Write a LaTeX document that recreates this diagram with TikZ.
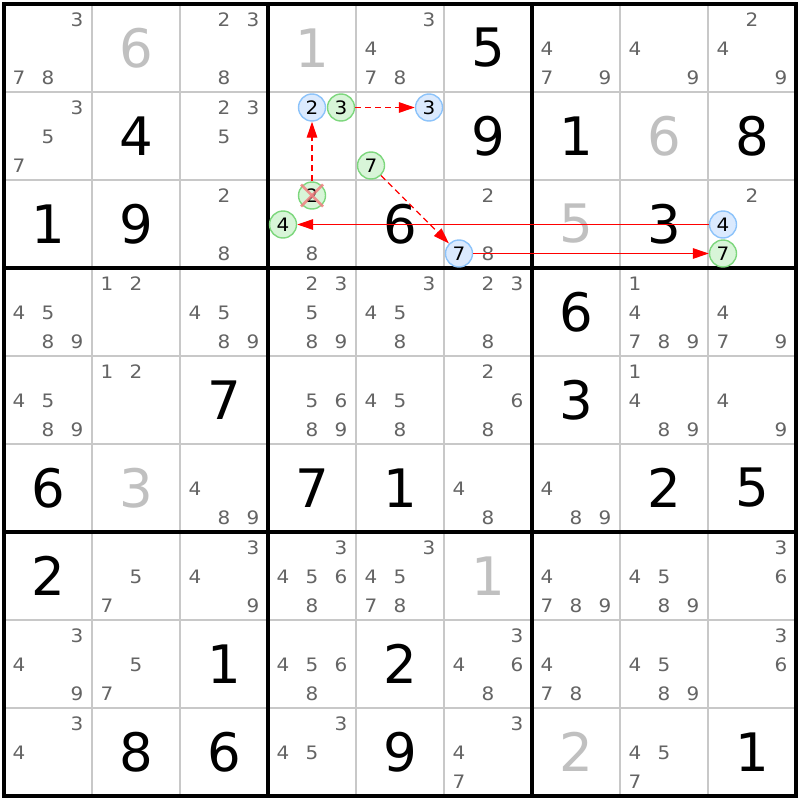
\documentclass[tikz,border=0pt]{standalone}
\usepackage{fontspec}
\setmainfont{DejaVu Sans}
\newfontfamily\candfont[FakeStretch=1.08]{DejaVu Sans}
\usetikzlibrary{arrows.meta}
\definecolor{gridc}{RGB}{200,200,200}
\definecolor{candc}{RGB}{100,100,100}
\definecolor{givg}{RGB}{192,192,192}
\definecolor{bfill}{RGB}{219,234,254}
\definecolor{bline}{RGB}{140,195,250}
\definecolor{gfill}{RGB}{216,245,216}
\definecolor{gline}{RGB}{125,215,125}
\definecolor{xcol}{RGB}{240,130,130}
\newcommand\cands[3]{%
  \foreach \n in {#3}{%
    \pgfmathtruncatemacro\py{(\n-1)/3}%
    \pgfmathtruncatemacro\px{\n-1-3*\py}%
    \node[cand] (k#1#2\n) at ({19+88*(#2-1)+29*\px},{19.5+88*(#1-1)+29*\py}) {\n};%
  }%
}
\begin{document}
\begin{tikzpicture}[x=1pt,y=-1pt,
  bigd/.style={font=\fontsize{53}{53}\selectfont, text=black, inner sep=0},
  bigg/.style={bigd, text=givg},
  cand/.style={font=\candfont\fontsize{18.5}{18.5}\selectfont, text=candc, inner sep=0},
  bc/.style={circle, draw=bline, fill=bfill, line width=1.4pt, minimum size=27pt, inner sep=0, text=black, font=\candfont\fontsize{18.5}{18.5}\selectfont},
  gc/.style={bc, draw=gline, fill=gfill},
  link/.style={draw=red, line width=1.4pt, -{Triangle[length=16pt,width=10.5pt]}},
  weak/.style={link, dash pattern=on 6pt off 4pt},
  thinline/.style={draw=gridc, line width=1.4pt},
  thickline/.style={draw=black, line width=3.3pt},
]
\useasboundingbox (0,0) rectangle (800,800);
\fill[white] (0,0) rectangle (800,800);
% grid
\foreach \i in {1,2,4,5,7,8} {
  \draw[thinline] ({4+88*\i},4) -- ({4+88*\i},796);
  \draw[thinline] (4,{4+88*\i}) -- (796,{4+88*\i});
}
\foreach \i in {3,6} {
  \draw[thickline] ({4+88*\i},4) -- ({4+88*\i},796);
  \draw[thickline] (4,{4+88*\i}) -- (796,{4+88*\i});
}
\draw[thickline] (4,4) rectangle (796,796);
% big digits
\foreach \r/\c/\v in {1/6/5, 2/2/4, 2/6/9, 2/7/1, 2/9/8, 3/1/1, 3/2/9, 3/5/6, 3/8/3,
  4/7/6, 5/3/7, 5/7/3, 6/1/6, 6/4/7, 6/5/1, 6/8/2, 6/9/5, 7/1/2, 8/3/1, 8/5/2,
  9/2/8, 9/3/6, 9/5/9, 9/9/1}
  \node[bigd] (v\r\c) at ({48+88*(\c-1)},{48+88*(\r-1)}) {\v};
\foreach \r/\c/\v in {1/2/6, 1/4/1, 2/8/6, 3/7/5, 6/2/3, 7/6/1, 9/7/2}
  \node[bigg] (v\r\c) at ({48+88*(\c-1)},{48+88*(\r-1)}) {\v};
% candidates
\cands{1}{1}{3,7,8}\cands{1}{3}{2,3,8}\cands{1}{5}{3,4,7,8}\cands{1}{7}{4,7,9}\cands{1}{8}{4,9}\cands{1}{9}{2,4,9}
\cands{2}{1}{3,5,7}\cands{2}{3}{2,3,5}
\cands{3}{3}{2,8}\cands{3}{4}{8}\cands{3}{6}{2,8}\cands{3}{9}{2}
\cands{4}{1}{4,5,8,9}\cands{4}{2}{1,2}\cands{4}{3}{4,5,8,9}\cands{4}{4}{2,3,5,8,9}\cands{4}{5}{3,4,5,8}\cands{4}{6}{2,3,8}\cands{4}{8}{1,4,7,8,9}\cands{4}{9}{4,7,9}
\cands{5}{1}{4,5,8,9}\cands{5}{2}{1,2}\cands{5}{4}{5,6,8,9}\cands{5}{5}{4,5,8}\cands{5}{6}{2,6,8}\cands{5}{8}{1,4,8,9}\cands{5}{9}{4,9}
\cands{6}{3}{4,8,9}\cands{6}{6}{4,8}\cands{6}{7}{4,8,9}
\cands{7}{2}{5,7}\cands{7}{3}{3,4,9}\cands{7}{4}{3,4,5,6,8}\cands{7}{5}{3,4,5,7,8}\cands{7}{7}{4,7,8,9}\cands{7}{8}{4,5,8,9}\cands{7}{9}{3,6}
\cands{8}{1}{3,4,9}\cands{8}{2}{5,7}\cands{8}{4}{4,5,6,8}\cands{8}{6}{3,4,6,8}\cands{8}{7}{4,7,8}\cands{8}{8}{4,5,8,9}\cands{8}{9}{3,6}
\cands{9}{1}{3,4}\cands{9}{4}{3,4,5}\cands{9}{6}{3,4,7}\cands{9}{8}{4,5,7}
% highlighted candidates
\node[bc] (b2) at (312,107.5) {2};
\node[gc] (g3) at (341,107.5) {3};
\node[bc] (b3) at (429,107.5) {3};
\node[gc] (g7a) at (371,165.5) {7};
\node[gc] (gx2) at (312,195.5) {2};
\node[gc] (g4) at (283,224.5) {4};
\node[bc] (b7) at (459,253.5) {7};
\node[bc] (b4) at (723,224.5) {4};
\node[gc] (g7b) at (723,253.5) {7};
% cross
\draw[xcol, line width=2.5pt, opacity=0.85] ([shift={(-11,-11)}]gx2.center) -- ([shift={(11,11)}]gx2.center);
\draw[xcol, line width=2.5pt, opacity=0.85] ([shift={(11,-11)}]gx2.center) -- ([shift={(-11,11)}]gx2.center);
% links
\draw[weak] (gx2) -- (b2);
\draw[weak] (g3) -- (b3);
\draw[weak] (g7a) -- (b7);
\draw[link] (b4) -- (g4);
\draw[link] (b7) -- (g7b);
\end{tikzpicture}
\end{document}
